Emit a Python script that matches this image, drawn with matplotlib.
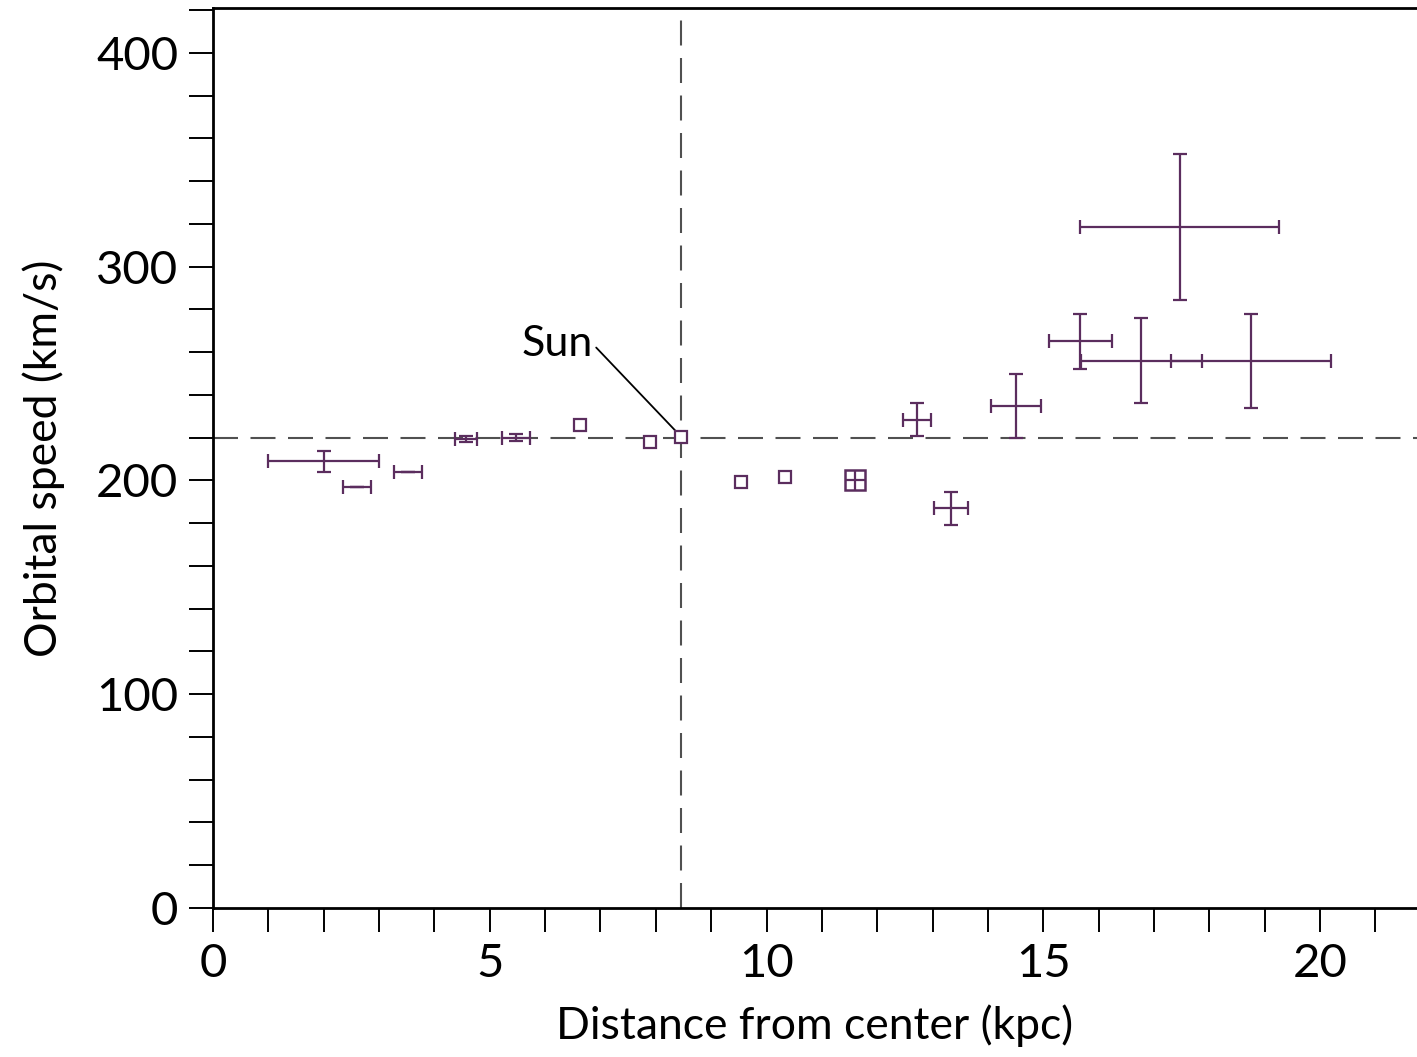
import matplotlib
matplotlib.use('Agg')
import matplotlib.pyplot as plt
import numpy as np

plt.rcParams['font.family'] = ['Lato', 'DejaVu Sans']

# Data (distance in kpc, speed in km/s)
r_bars = [2.0, 2.6, 3.52, 4.57, 5.47, 12.72, 13.33, 14.5, 15.67, 16.77, 18.75, 17.46]
v_bars = [209, 197, 204, 219.5, 220, 228.5, 187, 235, 265, 256, 256, 318.5]
r_err = [1.0, 0.26, 0.25, 0.2, 0.25, 0.25, 0.3, 0.45, 0.57, 1.09, 1.45, 1.8]
v_err = [5, 0, 0, 1.5, 1.5, 7.5, 7.7, 15, 12.7, 20, 22, 34]

r_sq = [6.63, 7.89, 8.45, 9.53, 10.33]
v_sq = [226, 218, 220.5, 199.3, 201.6]

# one point drawn as square with small bars inside
r_box = [11.6]
v_box = [200]

r_sun = 8.45
v_flat = 220

purple = '#5b2d5e'

fig = plt.figure(figsize=(14.17, 10.57), dpi=100)
ax = fig.add_axes([213/1417, 1 - 908/1057, 1 - 213/1417, (908 - 8)/1057])

# reference lines
ax.axhline(v_flat, color='#505050', lw=1.5, dashes=(12, 6), zorder=1)
ax.axvline(r_sun, color='#505050', lw=1.5, dashes=(12, 6), zorder=1)

ax.errorbar(r_bars, v_bars, xerr=r_err, yerr=v_err, fmt='none', ecolor=purple,
            elinewidth=1.6, capsize=5, capthick=1.6, zorder=3)
ax.plot(r_sq, v_sq, 's', mfc='white', mec=purple, mew=1.6, ms=8, zorder=4)
ax.errorbar(r_box, v_box, xerr=0.17, yerr=4.3, fmt='s', mfc='none', mec=purple,
            mew=1.8, ms=14, ecolor=purple, elinewidth=1.6, capsize=0, zorder=4)

ax.annotate('Sun', xy=(r_sun - 0.05, v_sq[2] + 1.5), xytext=(6.21, 264),
            ha='center', va='center', fontsize=31,
            arrowprops=dict(arrowstyle='-', color='black', lw=1.3,
                            shrinkA=1, shrinkB=3, relpos=(1, 0.5)))

ax.set_xlim(0, 21.75)
ax.set_ylim(0, 421)
ax.set_xticks([0, 5, 10, 15, 20])
ax.set_xticks(np.arange(0, 22, 1), minor=True)
ax.set_yticks([0, 100, 200, 300, 400])
ax.set_yticks(np.arange(0, 421, 20), minor=True)
ax.tick_params(which='both', direction='out', length=17, width=1.4, labelsize=34, pad=8)

ax.spines['right'].set_visible(False)
for s in ['left', 'bottom', 'top']:
    ax.spines[s].set_linewidth(2)

ax.set_xlabel('Distance from center (kpc)', fontsize=32, labelpad=14)
ax.set_ylabel('Orbital speed (km/s)', fontsize=32, labelpad=22)

fig.savefig('out.png', dpi=100)
